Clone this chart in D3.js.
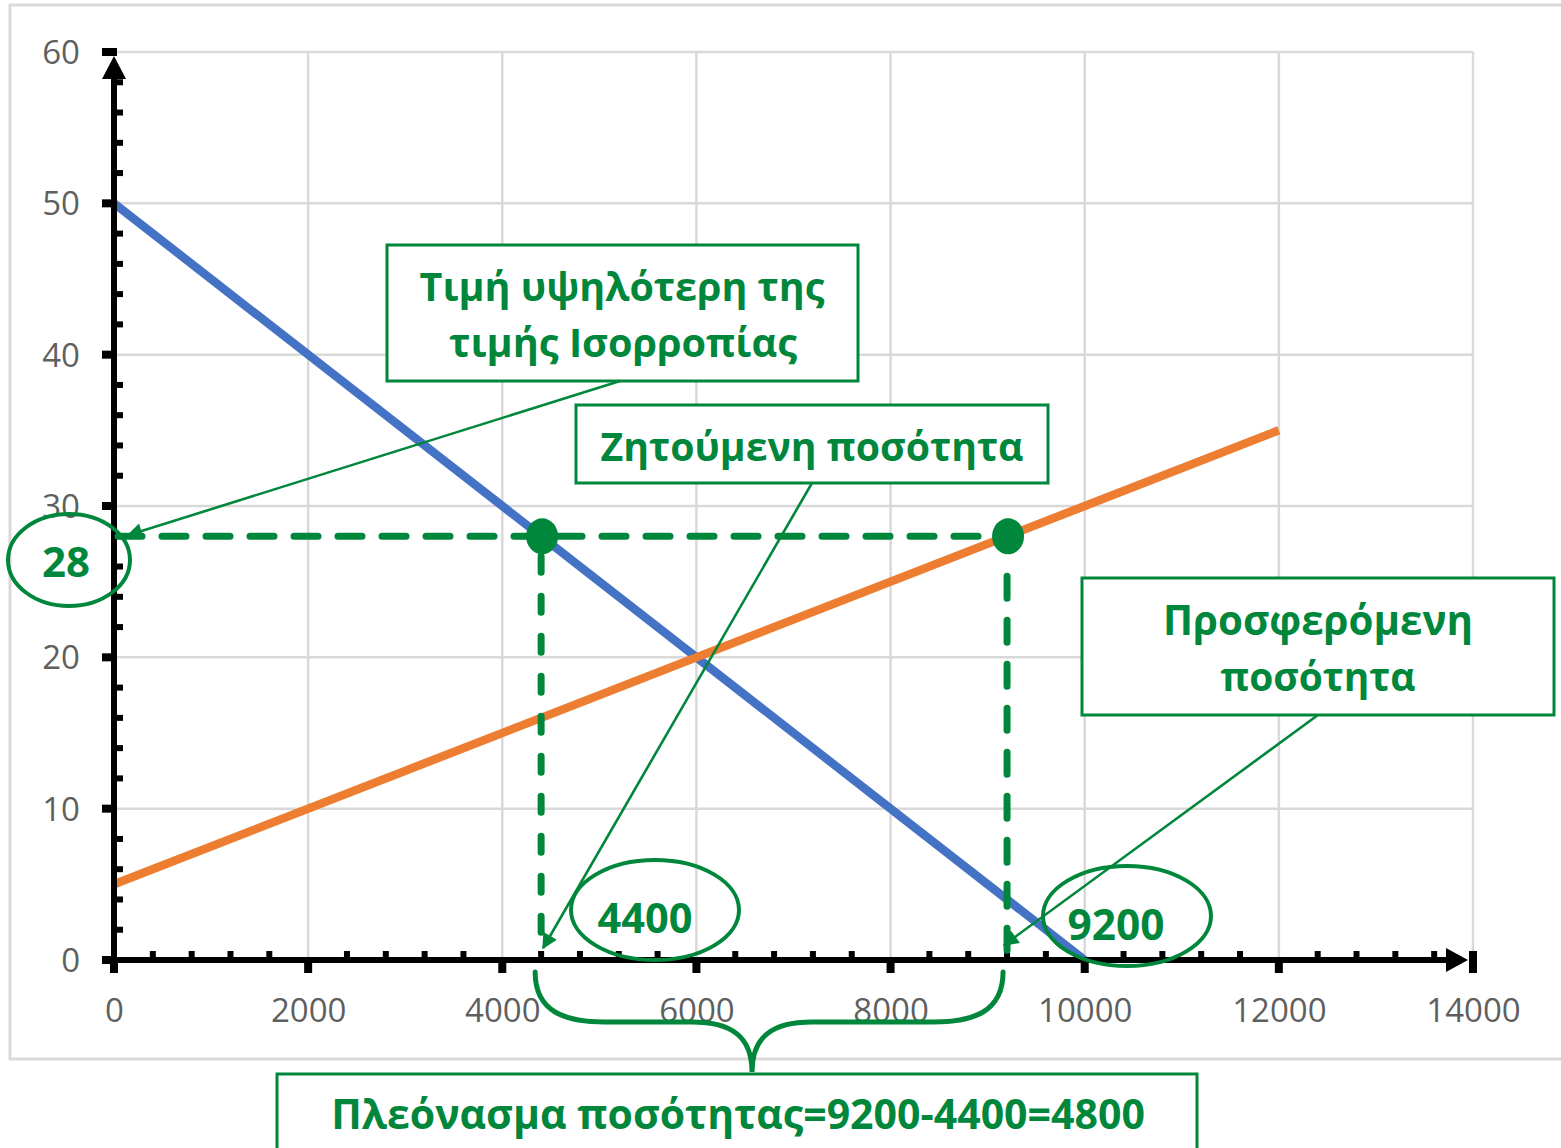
<!DOCTYPE html>
<html><head><meta charset="utf-8">
<script src="https://cdn.jsdelivr.net/npm/d3@7"></script>
<style>html,body{margin:0;padding:0;background:#fff;}svg{display:block;}</style>
</head><body>
<svg id="chart" width="1561" height="1148"></svg>
<script>
// ---- data ----
const xTicks = [0, 2000, 4000, 6000, 8000, 10000, 12000, 14000];
const yTicks = [0, 10, 20, 30, 40, 50, 60];
const demandX = [0, 10000];
const demandY = [50, 0];
const supplyX = [0, 12000];
const supplyY = [5, 35];
const priceLevel = 28;
const qDemanded = 4400;
const qSupplied = 9200;
const priceLabel = "28";
const qdLabel = "4400";
const qsLabel = "9200";
const box1Lines = ["Τιμή υψηλότερη της", "τιμής Ισορροπίας"];
const box2Lines = ["Ζητούμενη ποσότητα"];
const box3Lines = ["Προσφερόμενη", "ποσότητα"];
const box4Lines = ["Πλεόνασμα ποσότητας=9200-4400=4800"];

const GREEN = "#00873c";
const svg = d3.select("#chart");
const x = d3.scaleLinear().domain([0, 14000]).range([114, 1473]);
const y = d3.scaleLinear().domain([0, 60]).range([960, 52]);

// outer chart frame
svg.append("rect").attr("x", 10).attr("y", 5).attr("width", 1580).attr("height", 1054)
  .attr("fill", "none").attr("stroke", "#d9d9d9").attr("stroke-width", 3);

// gridlines
svg.append("g").selectAll("line").data(xTicks.filter(d => d > 0)).join("line")
  .attr("x1", d => x(d)).attr("x2", d => x(d)).attr("y1", y(0)).attr("y2", y(60))
  .attr("stroke", "#d9d9d9").attr("stroke-width", 2.5);
svg.append("g").selectAll("line").data(yTicks.filter(d => d > 0)).join("line")
  .attr("x1", x(0)).attr("x2", x(14000)).attr("y1", d => y(d)).attr("y2", d => y(d))
  .attr("stroke", "#d9d9d9").attr("stroke-width", 2.5);

// tick labels via d3 axes
const xAxis = svg.append("g").attr("transform", `translate(0,${y(0)})`)
  .call(d3.axisBottom(x).tickValues(xTicks).tickSize(0).tickPadding(62).tickFormat(d3.format("d")));
const yAxis = svg.append("g").attr("transform", `translate(${x(0)},0)`)
  .call(d3.axisLeft(y).tickValues(yTicks).tickSize(0).tickPadding(34).tickFormat(d3.format("d")));
[xAxis, yAxis].forEach(g => {
  g.select(".domain").remove();
  g.selectAll("text").attr("font-family", "'Open Sans', sans-serif").attr("font-size", 33)
    .attr("fill", "#5f5f5f");
});
yAxis.selectAll("text").attr("dy", "0.35em");
xAxis.selectAll("text").attr("dy", "0");

// series lines
const line = d3.line().x(d => x(d[0])).y(d => y(d[1]));
svg.append("path").datum(demandX.map((v, i) => [v, demandY[i]])).attr("d", line)
  .attr("fill", "none").attr("stroke", "#4472c4").attr("stroke-width", 8.5);
svg.append("path").datum(supplyX.map((v, i) => [v, supplyY[i]])).attr("d", line)
  .attr("fill", "none").attr("stroke", "#ed7d31").attr("stroke-width", 8.5);

// axes (thick black with arrows)
const ax = svg.append("g").attr("fill", "#000");
ax.append("rect").attr("x", x(0) - 3).attr("y", 75).attr("width", 6).attr("height", y(0) - 75 + 12);
ax.append("path").attr("d", `M${x(0)},${y(60) + 4} L${x(0) + 12},${y(60) + 27} L${x(0) - 12},${y(60) + 27} Z`);
ax.append("rect").attr("x", x(0) - 12).attr("y", y(0) - 3).attr("width", 1450 - x(0) + 12).attr("height", 6);
ax.append("path").attr("d", `M${x(14000) - 5},${y(0)} L${x(14000) - 27},${y(0) - 12} L${x(14000) - 27},${y(0) + 12} Z`);
ax.selectAll(".ymaj").data(yTicks).join("rect").attr("class", "ymaj")
  .attr("x", x(0) - 12).attr("y", d => y(d) - 4).attr("width", 15).attr("height", 8);
ax.selectAll(".ymin").data(d3.range(2, 60, 2).filter(d => d % 10 !== 0)).join("rect").attr("class", "ymin")
  .attr("x", x(0)).attr("y", d => y(d) - 3).attr("width", 9).attr("height", 6);
ax.selectAll(".xmaj").data(xTicks).join("rect").attr("class", "xmaj")
  .attr("x", d => x(d) - 4).attr("y", y(0)).attr("width", 8).attr("height", 13);
ax.append("rect").attr("x", x(14000) - 4).attr("y", y(0) - 9).attr("width", 8).attr("height", 12);
ax.selectAll(".xmin").data(d3.range(400, 14000, 400).filter(d => d % 2000 !== 0)).join("rect").attr("class", "xmin")
  .attr("x", d => x(d) - 3).attr("y", y(0) - 9).attr("width", 6).attr("height", 9);

// dashed guide lines
const gg = svg.append("g").attr("stroke", GREEN).attr("fill", "none").attr("stroke-linecap", "round");
gg.append("line").attr("x1", x(0) + 4).attr("x2", x(qSupplied)).attr("y1", y(priceLevel)).attr("y2", y(priceLevel))
  .attr("stroke-width", 7).attr("stroke-dasharray", "24 20");
gg.append("line").attr("x1", x(qDemanded)).attr("x2", x(qDemanded)).attr("y1", y(priceLevel) + 20).attr("y2", y(0) - 14)
  .attr("stroke-width", 7).attr("stroke-dasharray", "16 24");
gg.append("line").attr("x1", x(qSupplied)).attr("x2", x(qSupplied)).attr("y1", y(priceLevel) + 40).attr("y2", y(0) - 2)
  .attr("stroke-width", 7).attr("stroke-dasharray", "22 22");

// intersection dots
svg.selectAll(".dot").data([qDemanded, qSupplied]).join("ellipse").attr("class", "dot")
  .attr("cx", d => x(d) + 1).attr("cy", y(priceLevel)).attr("rx", 16).attr("ry", 18).attr("fill", GREEN);

function fitText(sel, target) {
  const fs = +sel.attr("font-size");
  const w = sel.node().getComputedTextLength();
  if (w > 0) sel.attr("font-size", fs * target / w);
}
function label(txt, cx, baseline, width) {
  const t = svg.append("text").text(txt).attr("x", cx).attr("y", baseline)
    .attr("text-anchor", "middle").attr("font-family", "'Open Sans', sans-serif")
    .attr("font-weight", 700).attr("font-size", 40).attr("fill", GREEN);
  fitText(t, width);
  return t;
}

// ellipses
const ell = svg.append("g").attr("fill", "none").attr("stroke", GREEN).attr("stroke-width", 4);
ell.append("ellipse").attr("cx", 69).attr("cy", 560).attr("rx", 61).attr("ry", 46);
ell.append("ellipse").attr("cx", 655).attr("cy", 910).attr("rx", 84).attr("ry", 50);
ell.append("ellipse").attr("cx", 1127).attr("cy", 916).attr("rx", 84).attr("ry", 50);
label(priceLabel, 66, 577, 48);
label(qdLabel, 645, 933, 95);
label(qsLabel, 1116, 940, 97);

// text boxes
const boxes = svg.append("g").attr("fill", "#fff").attr("stroke", GREEN).attr("stroke-width", 3);
boxes.append("rect").attr("x", 387).attr("y", 245).attr("width", 471).attr("height", 136);
boxes.append("rect").attr("x", 576).attr("y", 405).attr("width", 472).attr("height", 78);
boxes.append("rect").attr("x", 1082).attr("y", 578).attr("width", 472).attr("height", 137);
boxes.append("rect").attr("x", 277).attr("y", 1074).attr("width", 920).attr("height", 100);

label(box1Lines[0], 622, 301, 405);
label(box1Lines[1], 623, 357, 348);
label(box2Lines[0], 812, 461, 423);
label(box3Lines[0], 1318, 635, 310);
label(box3Lines[1], 1318, 691, 195);
label(box4Lines[0], 738, 1129, 814);

// callout lines with arrows
const defs = svg.append("defs");
defs.append("marker").attr("id", "arr").attr("viewBox", "0 0 10 10").attr("refX", 9).attr("refY", 5)
  .attr("markerWidth", 7).attr("markerHeight", 6).attr("markerUnits", "strokeWidth").attr("orient", "auto")
  .append("path").attr("d", "M0,0 L10,5 L0,10 Z").attr("fill", GREEN);
const co = svg.append("g").attr("stroke", GREEN).attr("stroke-width", 2.6).attr("fill", "none");
co.append("line").attr("x1", 620).attr("y1", 381).attr("x2", x(0) + 14).attr("y2", y(priceLevel) - 1).attr("marker-end", "url(#arr)");
co.append("line").attr("x1", 812).attr("y1", 483).attr("x2", x(qDemanded) + 2).attr("y2", 948).attr("marker-end", "url(#arr)");
co.append("line").attr("x1", 1318).attr("y1", 715).attr("x2", x(qSupplied) - 3).attr("y2", 945).attr("marker-end", "url(#arr)");

// brace
const bl = x(qDemanded) - 6, br = x(qSupplied) - 4, bTop = 972, bMid = 1022, tipY = 1072, tipX = 752;
svg.append("path").attr("fill", "none").attr("stroke", GREEN).attr("stroke-width", 5)
  .attr("stroke-linecap", "round")
  .attr("d", `M${bl},${bTop} C${bl},${bMid - 10} ${bl + 30},${bMid} ${bl + 70},${bMid}
    L${tipX - 60},${bMid} C${tipX - 20},${bMid} ${tipX},${bMid + 15} ${tipX},${tipY}
    C${tipX},${bMid + 15} ${tipX + 20},${bMid} ${tipX + 60},${bMid}
    L${br - 70},${bMid} C${br - 30},${bMid} ${br},${bMid - 10} ${br},${bTop}`);
</script>
</body></html>
